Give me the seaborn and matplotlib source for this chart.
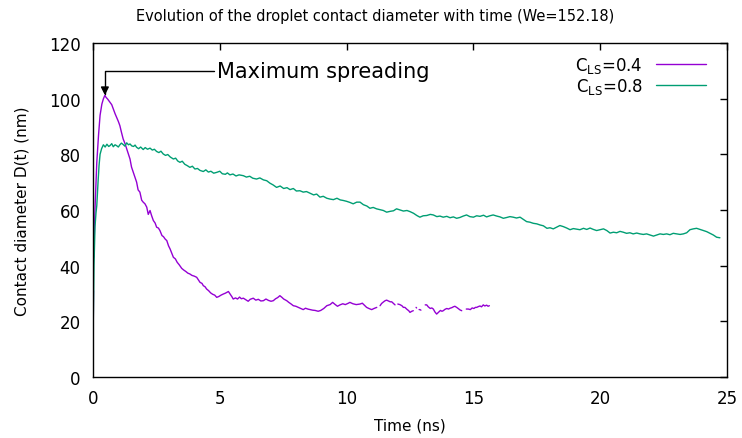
import matplotlib
matplotlib.use("Agg")
import matplotlib.pyplot as plt
import numpy as np
import pandas as pd
import seaborn as sns

# C_LS = 0.4 (purple), split into segments where the trace has gaps
t_04 = [
    [0.0, 0.02],
    [0.03, 0.08, 0.15, 0.22, 0.28, 0.35, 0.41, 0.47, 0.51, 0.58, 0.67, 0.74, 0.80,
     0.87, 0.93, 1.00, 1.06, 1.12, 1.19, 1.26, 1.33, 1.40, 1.46, 1.52, 1.59, 1.66,
     1.72, 1.78, 1.85, 1.92, 1.98, 2.05, 2.12, 2.18, 2.25, 2.31, 2.38, 2.45, 2.51,
     2.58, 2.64, 2.72, 2.78, 2.85, 2.91, 2.98, 3.04, 3.10, 3.17, 3.25, 3.32, 3.40,
     3.50, 3.58, 3.66, 3.74, 3.82, 3.90, 4.00, 4.09, 4.15, 4.22, 4.30, 4.35, 4.42,
     4.48, 4.56, 4.64, 4.72, 4.80, 4.88, 4.96, 5.05, 5.14, 5.22, 5.28, 5.34, 5.42,
     5.48, 5.53, 5.62, 5.70, 5.78, 5.85, 5.93, 6.02, 6.12, 6.20, 6.32, 6.42, 6.52,
     6.62, 6.72, 6.82, 6.92, 7.02, 7.11, 7.20, 7.28, 7.37, 7.45, 7.52, 7.64, 7.72,
     7.80, 7.90, 8.00, 8.10, 8.20, 8.29, 8.38, 8.47, 8.56, 8.66, 8.76, 8.88, 8.98,
     9.10, 9.22, 9.35, 9.45, 9.54, 9.64, 9.74, 9.85, 9.95, 10.07, 10.13, 10.25,
     10.38, 10.53, 10.62, 10.70, 10.79, 10.88, 10.99, 11.08, 11.19],
    [11.32, 11.38, 11.46, 11.52, 11.58, 11.65, 11.72, 11.78, 11.85, 11.91],
    [12.02, 12.10, 12.18, 12.24, 12.30, 12.38, 12.45, 12.50, 12.57, 12.63],
    [12.74, 12.76],
    [12.86, 12.89, 12.93],
    [13.10, 13.16, 13.22, 13.30, 13.36, 13.42, 13.48, 13.55, 13.62, 13.70, 13.76,
     13.81, 13.88, 13.95, 14.02, 14.08, 14.15, 14.21, 14.27, 14.34, 14.40, 14.47,
     14.54],
    [14.72, 14.80, 14.88, 14.95, 15.02, 15.08, 15.13, 15.20, 15.26, 15.32, 15.39,
     15.45, 15.52, 15.58, 15.63],
]
d_04 = [
    [0.0, 31.0],
    [43.0, 60.4, 77.0, 87.0, 94.0, 98.0, 99.9, 101.2, 100.5, 99.8, 98.7, 97.8, 96.3,
     94.6, 93.3, 91.8, 90.3, 88.0, 85.5, 83.9, 81.9, 80.0, 78.3, 75.4, 73.5, 71.6,
     70.0, 67.2, 66.4, 63.5, 62.8, 62.2, 61.0, 58.4, 59.8, 58.0, 56.2, 55.3, 53.8,
     53.5, 52.6, 50.8, 50.4, 49.5, 49.0, 47.1, 46.0, 44.6, 43.0, 42.4, 41.2, 40.3,
     39.0, 38.4, 37.9, 37.3, 37.0, 36.5, 36.2, 35.8, 35.0, 34.0, 33.6, 32.8, 32.4,
     31.6, 31.0, 30.2, 29.7, 29.4, 28.6, 28.9, 29.4, 29.8, 30.1, 30.4, 30.7, 29.6,
     28.8, 28.0, 28.4, 28.0, 28.7, 28.1, 28.3, 27.8, 27.2, 27.9, 28.3, 27.6, 27.9,
     27.3, 27.4, 28.0, 27.5, 27.2, 27.4, 28.1, 28.5, 29.2, 28.6, 28.0, 27.4, 26.8,
     26.3, 25.6, 25.4, 25.0, 24.6, 24.2, 24.7, 24.4, 24.2, 24.0, 23.9, 23.6, 23.9,
     24.6, 25.6, 26.0, 26.8, 26.1, 25.4, 25.9, 26.3, 26.0, 26.5, 26.8, 26.3,
     26.0, 26.2, 26.5, 25.8, 25.0, 24.6, 24.2, 24.6, 25.0],
    [25.6, 26.4, 27.0, 27.4, 27.6, 27.3, 27.0, 27.0, 26.4, 25.9],
    [26.2, 26.0, 25.6, 25.0, 25.0, 24.3, 23.8, 23.2, 23.6, 23.8],
    [25.0, 24.8],
    [24.2, 24.2, 24.0],
    [25.9, 25.9, 25.2, 24.6, 24.8, 24.4, 23.4, 22.6, 23.2, 23.9, 23.6, 23.8, 24.3,
     24.6, 24.4, 24.7, 24.9, 25.2, 25.4, 25.0, 24.6, 24.1, 23.8],
    [24.4, 24.4, 24.2, 24.8, 24.6, 25.0, 25.0, 25.3, 25.5, 25.2, 25.9, 25.5, 25.8,
     25.4, 25.6],
]

# C_LS = 0.8 (green)
t_08 = [
    0.0, 0.04, 0.08, 0.12, 0.15, 0.20, 0.24, 0.28, 0.34, 0.41, 0.48, 0.55, 0.62,
    0.67, 0.74, 0.80, 0.87, 0.93, 1.00, 1.06, 1.12, 1.19, 1.26, 1.33, 1.40, 1.46,
    1.53, 1.60, 1.66, 1.72, 1.80, 1.88, 1.98, 2.06, 2.15, 2.25, 2.34, 2.42, 2.51,
    2.60, 2.68, 2.77, 2.86, 2.95, 3.05, 3.17, 3.26, 3.34, 3.43, 3.52, 3.62, 3.72,
    3.82, 3.92, 4.02, 4.12, 4.22, 4.35, 4.45, 4.55, 4.65, 4.76, 4.88, 5.00, 5.10,
    5.22, 5.30, 5.40, 5.52, 5.64, 5.76, 5.93, 6.05, 6.18, 6.30, 6.45, 6.58, 6.72,
    6.85, 6.98, 7.10, 7.24, 7.38, 7.52, 7.65, 7.77, 7.90, 8.02, 8.16, 8.29, 8.42,
    8.56, 8.70, 8.82, 8.95, 9.08, 9.22, 9.35, 9.48, 9.62, 9.75, 9.87, 10.00, 10.13,
    10.26, 10.40, 10.53, 10.66, 10.80, 10.92, 11.05, 11.18, 11.32, 11.45, 11.58,
    11.72, 11.85, 11.97, 12.10, 12.24, 12.38, 12.50, 12.64, 12.77, 12.89, 13.02,
    13.16, 13.30, 13.42, 13.56, 13.68, 13.81, 13.95, 14.08, 14.21, 14.34, 14.47,
    14.60, 14.73, 14.86, 15.00, 15.13, 15.26, 15.40, 15.52, 15.65, 15.78, 15.92,
    16.05, 16.18, 16.32, 16.44, 16.57, 16.70, 16.84, 16.97, 17.10, 17.23, 17.36,
    17.50, 17.63, 17.76, 17.90, 18.02, 18.15, 18.28, 18.41, 18.55, 18.68, 18.81,
    18.94, 19.07, 19.20, 19.34, 19.47, 19.60, 19.73, 19.86, 19.99, 20.13, 20.26,
    20.39, 20.52, 20.65, 20.78, 20.91, 21.04, 21.17, 21.30, 21.44, 21.57, 21.70,
    21.83, 21.96, 22.10, 22.23, 22.36, 22.49, 22.62, 22.75, 22.88, 23.02, 23.15,
    23.28, 23.41, 23.54, 23.67, 23.80, 23.94, 24.07, 24.20, 24.33, 24.46, 24.59,
    24.72, 24.85, 25.0,
]
d_08 = [
    12.0, 40.0, 54.0, 59.0, 61.5, 70.0, 76.0, 80.0, 82.0, 83.4, 82.6, 83.6, 82.8,
    83.1, 83.8, 82.7, 83.4, 83.1, 82.6, 83.4, 84.0, 83.5, 82.9, 84.1, 83.4, 83.7,
    83.0, 82.8, 83.3, 82.5, 82.0, 82.6, 81.7, 82.4, 81.8, 82.2, 81.5, 81.8, 81.0,
    80.6, 81.1, 80.1, 79.6, 79.9, 79.0, 78.3, 78.6, 77.6, 77.1, 77.5, 76.4, 75.9,
    75.3, 75.7, 74.7, 74.9, 74.2, 73.8, 74.4, 73.6, 73.9, 73.2, 73.5, 73.9, 73.0,
    72.8, 73.3, 72.6, 72.9, 72.2, 72.6, 72.3, 71.8, 72.1, 71.4, 71.1, 71.5, 70.8,
    70.5, 69.6, 69.0, 68.1, 68.6, 67.7, 68.0, 67.3, 67.7, 66.8, 66.9, 66.4, 66.6,
    66.0, 65.4, 65.7, 64.6, 64.9, 64.2, 63.9, 63.7, 64.2, 63.6, 63.4, 63.1, 62.7,
    62.2, 62.8, 62.8, 61.9, 61.4, 60.6, 60.9, 60.4, 60.1, 59.8, 59.2, 59.5, 59.7,
    60.4, 60.0, 59.6, 59.8, 59.4, 58.8, 58.0, 57.4, 57.9, 58.0, 58.4, 58.2, 57.6,
    57.8, 57.4, 57.7, 57.2, 57.5, 57.0, 57.3, 57.8, 58.2, 57.6, 57.4, 57.9, 57.7,
    58.1, 57.5, 57.9, 58.2, 57.8, 57.5, 57.0, 57.3, 57.6, 57.4, 57.1, 57.4, 56.6,
    55.8, 55.6, 55.2, 55.0, 54.6, 54.3, 53.4, 53.6, 53.2, 53.8, 54.4, 54.0, 53.5,
    52.9, 53.3, 53.1, 52.9, 53.4, 53.0, 53.5, 53.0, 52.6, 52.9, 53.2, 52.6, 51.7,
    52.0, 51.8, 52.3, 52.0, 51.6, 51.8, 51.4, 51.7, 51.4, 51.2, 51.4, 51.0, 50.6,
    51.0, 51.4, 51.2, 51.4, 51.1, 51.6, 51.4, 51.2, 51.4, 51.8, 52.9, 53.2, 53.4,
    53.0, 52.6, 52.2, 51.6, 51.0, 50.2, 50.0,
]

labels = [r"C$_{\mathrm{LS}}$=0.4", r"C$_{\mathrm{LS}}$=0.8"]
colors = ["#9400d3", "#009e73"]

rows = []
for seg, (ts, ds) in enumerate(zip(t_04, d_04)):
    for t, d in zip(ts, ds):
        rows.append((t, d, labels[0], seg))
for t, d in zip(t_08, d_08):
    rows.append((t, d, labels[1], 100))
df = pd.DataFrame(rows, columns=["time", "diam", "series", "seg"])

sns.set_style("white")
plt.rcParams["font.family"] = ["DejaVu Sans"]
plt.rcParams["mathtext.fontset"] = "dejavusans"
plt.rcParams["text.color"] = "black"
plt.rcParams["axes.labelcolor"] = "black"

fig = plt.figure(figsize=(7.42, 4.39), dpi=100)
ax = fig.add_axes([0.1253, 0.139, 0.8545, 0.761])

sns.lineplot(data=df, x="time", y="diam", hue="series", units="seg",
             estimator=None, sort=False, palette=colors, linewidth=1.0, ax=ax)

ax.set_xlim(0, 25)
ax.set_ylim(0, 120)
ax.set_xticks([0, 5, 10, 15, 20, 25])
ax.set_yticks([0, 20, 40, 60, 80, 100, 120])
ax.tick_params(direction="in", length=5, width=1, top=True, right=True,
               labelsize=12, colors="black")
ax.tick_params(axis="x", pad=8.5)
ax.tick_params(axis="y", pad=9)
for s in ax.spines.values():
    s.set_color("black")
    s.set_linewidth(1)

ax.set_xlabel("Time (ns)", fontsize=11, labelpad=7.5)
ax.set_ylabel("Contact diameter D(t) (nm)", fontsize=11, labelpad=13.5)
fig.suptitle("Evolution of the droplet contact diameter with time (We=152.18)",
             fontsize=10.5, x=0.506, y=0.962, va="center")

ax.annotate("Maximum spreading", xy=(0.47, 101.2), xytext=(4.9, 110),
            fontsize=15, va="center", ha="left",
            arrowprops=dict(arrowstyle="-|>", color="black", lw=1,
                            shrinkA=0, shrinkB=0, mutation_scale=12,
                            connectionstyle="angle,angleA=0,angleB=90,rad=0"))

leg = ax.legend(loc="upper right", bbox_to_anchor=(0.985, 1.0), frameon=False,
                markerfirst=False, fontsize=12, handlelength=3.0,
                borderaxespad=0.3, labelspacing=0.1)
for line in leg.get_lines():
    line.set_linewidth(1.0)

fig.savefig("out.png", dpi=100)
